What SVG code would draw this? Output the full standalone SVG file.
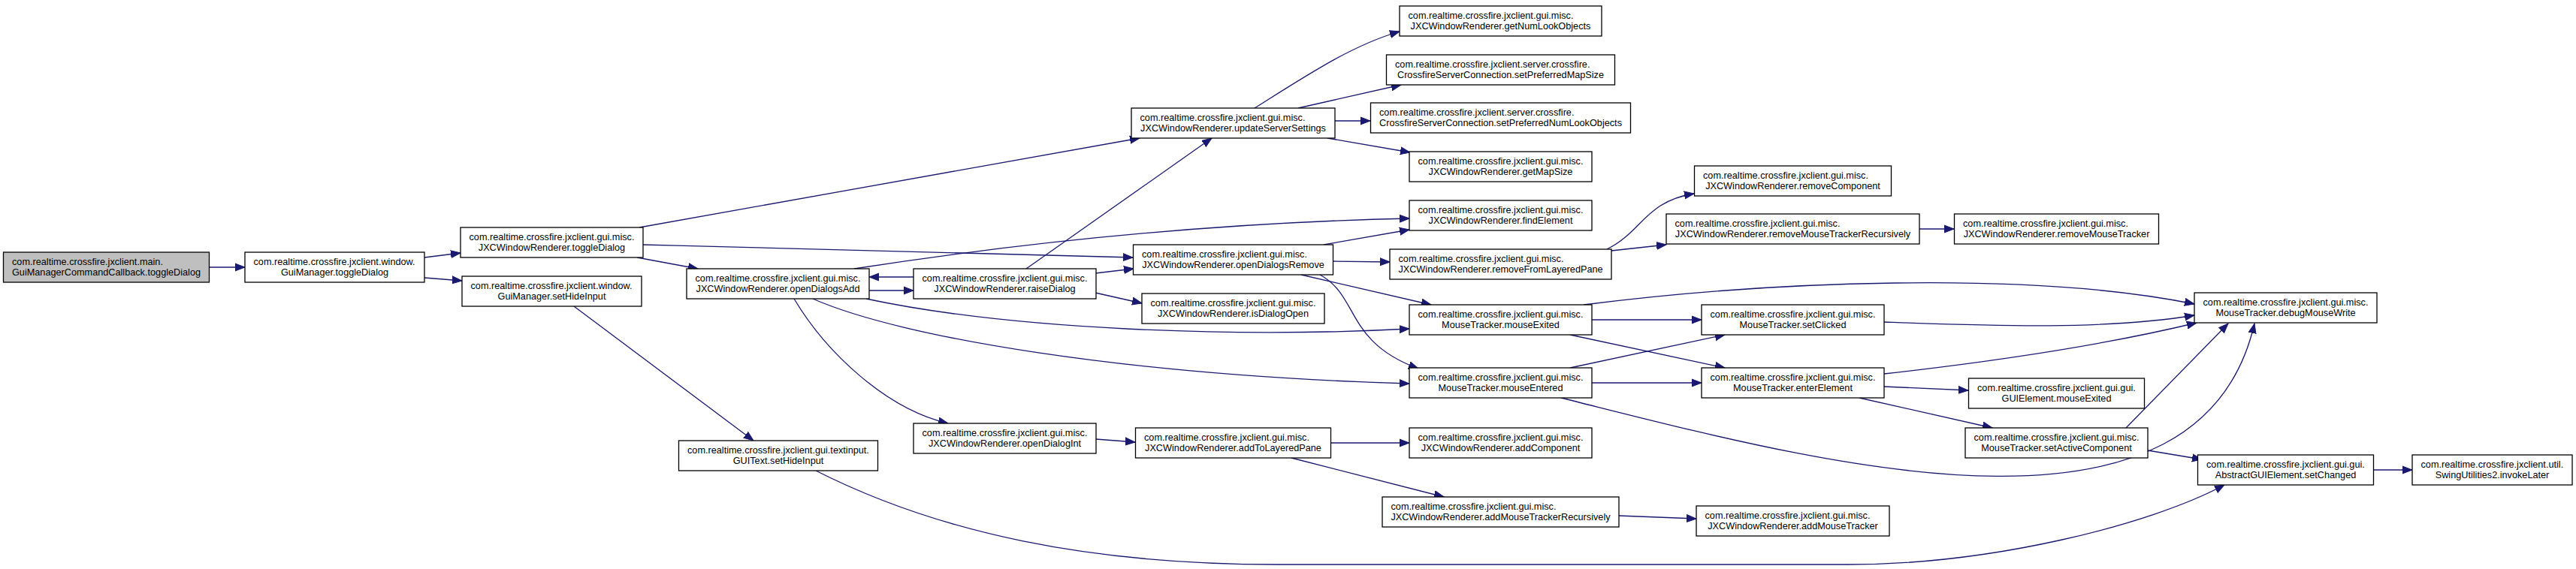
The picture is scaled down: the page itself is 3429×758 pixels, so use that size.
<svg xmlns="http://www.w3.org/2000/svg" width="3429" height="758" viewBox="0 0 3429 758">
<defs>
<marker id="ah" markerUnits="userSpaceOnUse" markerWidth="14" markerHeight="12" refX="13" refY="5" orient="auto" viewBox="0 0 14 10">
<path d="M0,0 L13,5 L0,10 z" fill="#191970" stroke="#191970" stroke-width="1"/>
</marker>
<style>
.n rect{fill:#ffffff;stroke:#000000;stroke-width:1.3}
.n rect.g{fill:#bfbfbf}
.n text{font-family:"Liberation Sans",Arial,Helvetica,sans-serif;font-size:12.7px;fill:#000000}
.n text.c{text-anchor:middle}
#edges path{fill:none;stroke:#191970;stroke-width:1.3;marker-end:url(#ah)}
</style>
</defs>
<rect x="0" y="0" width="3429" height="758" fill="#ffffff"/>
<g id="edges">
<path d="M279,356 L326,356"/>
<path d="M565,343 L613,337"/>
<path d="M565,370 L615,374"/>
<path d="M851,303 L1517,184"/>
<path d="M856,326 C1100,332 1350,338 1508,343"/>
<path d="M848,343 L929,358"/>
<path d="M764,408 L1003,587"/>
<path d="M1157,387 L1216,387"/>
<path d="M1216,369 L1157,369"/>
<path d="M1137,358 C1350,325 1600,297 1876,291"/>
<path d="M1057,398 C1100,470 1180,545 1262,564"/>
<path d="M1153,398 C1350,440 1650,450 1876,438"/>
<path d="M1082,398 C1200,450 1500,500 1876,511"/>
<path d="M1366,358 L1613,184"/>
<path d="M1458,364 L1509,358"/>
<path d="M1458,390 L1520,404"/>
<path d="M1670,144 C1740,100 1800,60 1863,42"/>
<path d="M1728,144 L1865,113"/>
<path d="M1777,161 L1824,161"/>
<path d="M1767,184 L1877,203"/>
<path d="M1762,326 L1876,306"/>
<path d="M1774,348 L1850,349"/>
<path d="M1732,366 L1905,406"/>
<path d="M1757,366 C1810,395 1790,455 1888,491"/>
<path d="M2139,332 C2185,310 2190,268 2255,258"/>
<path d="M2145,334 L2218,326"/>
<path d="M2555,305 L2601,305"/>
<path d="M2119,426 L2265,426"/>
<path d="M2090,446 L2296,490"/>
<path d="M2108,406 C2350,375 2700,360 2921,405"/>
<path d="M2090,490 L2296,446"/>
<path d="M2119,510 L2265,510"/>
<path d="M2078,530 C2400,610 2925,760 3001,431"/>
<path d="M2508,429 C2650,434 2800,440 2921,420"/>
<path d="M2508,498 C2650,482 2800,460 2924,430"/>
<path d="M2508,515 L2620,520"/>
<path d="M2475,530 L2652,570"/>
<path d="M2830,570 L2966,431"/>
<path d="M2859,600 L2931,612"/>
<path d="M1771,590 L1876,590"/>
<path d="M1719,610 L1922,662"/>
<path d="M1459,585 L1511,589"/>
<path d="M2155,687 L2258,691"/>
<path d="M1086,627 C1250,710 1450,752 1700,752 L2460,752 C2650,752 2860,700 2961,646"/>
<path d="M3159.5,626 L3211,626"/>
</g>
<g id="n1" class="n"><rect class="g" x="4.5" y="336" width="274" height="40"/><text x="16" y="353">com.realtime.crossfire.jxclient.main.</text><text class="c" x="141.5" y="367">GuiManagerCommandCallback.toggleDialog</text></g>
<g id="n2" class="n"><rect x="326" y="336" width="239" height="40"/><text x="337.5" y="353">com.realtime.crossfire.jxclient.window.</text><text class="c" x="445.5" y="367">GuiManager.toggleDialog</text></g>
<g id="n3" class="n"><rect x="613" y="303" width="243" height="40"/><text x="624.5" y="320">com.realtime.crossfire.jxclient.gui.misc.</text><text class="c" x="734.5" y="334">JXCWindowRenderer.toggleDialog</text></g>
<g id="n4" class="n"><rect x="615" y="368" width="239" height="40"/><text x="626.5" y="385">com.realtime.crossfire.jxclient.window.</text><text class="c" x="734.5" y="399">GuiManager.setHideInput</text></g>
<g id="n5" class="n"><rect x="914" y="358" width="243" height="40"/><text x="925.5" y="375">com.realtime.crossfire.jxclient.gui.misc.</text><text class="c" x="1035.5" y="389">JXCWindowRenderer.openDialogsAdd</text></g>
<g id="n6" class="n"><rect x="903.5" y="587" width="265" height="40"/><text x="915" y="604">com.realtime.crossfire.jxclient.gui.textinput.</text><text class="c" x="1036" y="618">GUIText.setHideInput</text></g>
<g id="n7" class="n"><rect x="1216" y="358" width="243" height="40"/><text x="1227.5" y="375">com.realtime.crossfire.jxclient.gui.misc.</text><text class="c" x="1337.5" y="389">JXCWindowRenderer.raiseDialog</text></g>
<g id="n8" class="n"><rect x="1216" y="564" width="243" height="40"/><text x="1227.5" y="581">com.realtime.crossfire.jxclient.gui.misc.</text><text class="c" x="1337.5" y="595">JXCWindowRenderer.openDialogInt</text></g>
<g id="n9" class="n"><rect x="1506" y="144" width="271" height="40"/><text x="1517.5" y="161">com.realtime.crossfire.jxclient.gui.misc.</text><text class="c" x="1641.5" y="175">JXCWindowRenderer.updateServerSettings</text></g>
<g id="n10" class="n"><rect x="1508.5" y="326" width="266" height="40"/><text x="1520" y="343">com.realtime.crossfire.jxclient.gui.misc.</text><text class="c" x="1641.5" y="357">JXCWindowRenderer.openDialogsRemove</text></g>
<g id="n11" class="n"><rect x="1520" y="391" width="243" height="40"/><text x="1531.5" y="408">com.realtime.crossfire.jxclient.gui.misc.</text><text class="c" x="1641.5" y="422">JXCWindowRenderer.isDialogOpen</text></g>
<g id="n12" class="n"><rect x="1511.5" y="570" width="260" height="40"/><text x="1523" y="587">com.realtime.crossfire.jxclient.gui.misc.</text><text class="c" x="1641.5" y="601">JXCWindowRenderer.addToLayeredPane</text></g>
<g id="n13" class="n"><rect x="1863" y="8" width="269" height="40"/><text x="1874.5" y="25">com.realtime.crossfire.jxclient.gui.misc.</text><text class="c" x="1997.5" y="39">JXCWindowRenderer.getNumLookObjects</text></g>
<g id="n14" class="n"><rect x="1845.5" y="73" width="304" height="40"/><text x="1857" y="90">com.realtime.crossfire.jxclient.server.crossfire.</text><text class="c" x="1997.5" y="104">CrossfireServerConnection.setPreferredMapSize</text></g>
<g id="n15" class="n"><rect x="1824.5" y="137" width="346" height="40"/><text x="1836" y="154">com.realtime.crossfire.jxclient.server.crossfire.</text><text class="c" x="1997.5" y="168">CrossfireServerConnection.setPreferredNumLookObjects</text></g>
<g id="n16" class="n"><rect x="1876" y="202" width="243" height="40"/><text x="1887.5" y="219">com.realtime.crossfire.jxclient.gui.misc.</text><text class="c" x="1997.5" y="233">JXCWindowRenderer.getMapSize</text></g>
<g id="n17" class="n"><rect x="1876" y="267" width="243" height="40"/><text x="1887.5" y="284">com.realtime.crossfire.jxclient.gui.misc.</text><text class="c" x="1997.5" y="298">JXCWindowRenderer.findElement</text></g>
<g id="n18" class="n"><rect x="1850" y="332" width="295" height="40"/><text x="1861.5" y="349">com.realtime.crossfire.jxclient.gui.misc.</text><text class="c" x="1997.5" y="363">JXCWindowRenderer.removeFromLayeredPane</text></g>
<g id="n19" class="n"><rect x="1876" y="406" width="243" height="40"/><text x="1887.5" y="423">com.realtime.crossfire.jxclient.gui.misc.</text><text class="c" x="1997.5" y="437">MouseTracker.mouseExited</text></g>
<g id="n20" class="n"><rect x="1876" y="490" width="243" height="40"/><text x="1887.5" y="507">com.realtime.crossfire.jxclient.gui.misc.</text><text class="c" x="1997.5" y="521">MouseTracker.mouseEntered</text></g>
<g id="n21" class="n"><rect x="1876" y="570" width="243" height="40"/><text x="1887.5" y="587">com.realtime.crossfire.jxclient.gui.misc.</text><text class="c" x="1997.5" y="601">JXCWindowRenderer.addComponent</text></g>
<g id="n22" class="n"><rect x="1840" y="662" width="315" height="40"/><text x="1851.5" y="679">com.realtime.crossfire.jxclient.gui.misc.</text><text class="c" x="1997.5" y="693">JXCWindowRenderer.addMouseTrackerRecursively</text></g>
<g id="n23" class="n"><rect x="2255.5" y="221" width="262" height="40"/><text x="2267" y="238">com.realtime.crossfire.jxclient.gui.misc.</text><text class="c" x="2386.5" y="252">JXCWindowRenderer.removeComponent</text></g>
<g id="n24" class="n"><rect x="2218" y="285" width="337" height="40"/><text x="2229.5" y="302">com.realtime.crossfire.jxclient.gui.misc.</text><text class="c" x="2386.5" y="316">JXCWindowRenderer.removeMouseTrackerRecursively</text></g>
<g id="n25" class="n"><rect x="2265" y="406" width="243" height="40"/><text x="2276.5" y="423">com.realtime.crossfire.jxclient.gui.misc.</text><text class="c" x="2386.5" y="437">MouseTracker.setClicked</text></g>
<g id="n26" class="n"><rect x="2265" y="490" width="243" height="40"/><text x="2276.5" y="507">com.realtime.crossfire.jxclient.gui.misc.</text><text class="c" x="2386.5" y="521">MouseTracker.enterElement</text></g>
<g id="n27" class="n"><rect x="2258" y="674" width="257" height="40"/><text x="2269.5" y="691">com.realtime.crossfire.jxclient.gui.misc.</text><text class="c" x="2386.5" y="705">JXCWindowRenderer.addMouseTracker</text></g>
<g id="n28" class="n"><rect x="2601.5" y="285" width="272" height="40"/><text x="2613" y="302">com.realtime.crossfire.jxclient.gui.misc.</text><text class="c" x="2737.5" y="316">JXCWindowRenderer.removeMouseTracker</text></g>
<g id="n29" class="n"><rect x="2620.5" y="504" width="234" height="40"/><text x="2632" y="521">com.realtime.crossfire.jxclient.gui.gui.</text><text class="c" x="2737.5" y="535">GUIElement.mouseExited</text></g>
<g id="n30" class="n"><rect x="2616" y="570" width="243" height="40"/><text x="2627.5" y="587">com.realtime.crossfire.jxclient.gui.misc.</text><text class="c" x="2737.5" y="601">MouseTracker.setActiveComponent</text></g>
<g id="n31" class="n"><rect x="2921" y="390" width="243" height="40"/><text x="2932.5" y="407">com.realtime.crossfire.jxclient.gui.misc.</text><text class="c" x="3042.5" y="421">MouseTracker.debugMouseWrite</text></g>
<g id="n32" class="n"><rect x="2925.5" y="606" width="234" height="40"/><text x="2937" y="623">com.realtime.crossfire.jxclient.gui.gui.</text><text class="c" x="3042.5" y="637">AbstractGUIElement.setChanged</text></g>
<g id="n33" class="n"><rect x="3211" y="606" width="213" height="40"/><text x="3222.5" y="623">com.realtime.crossfire.jxclient.util.</text><text class="c" x="3317.5" y="637">SwingUtilities2.invokeLater</text></g>
</svg>
